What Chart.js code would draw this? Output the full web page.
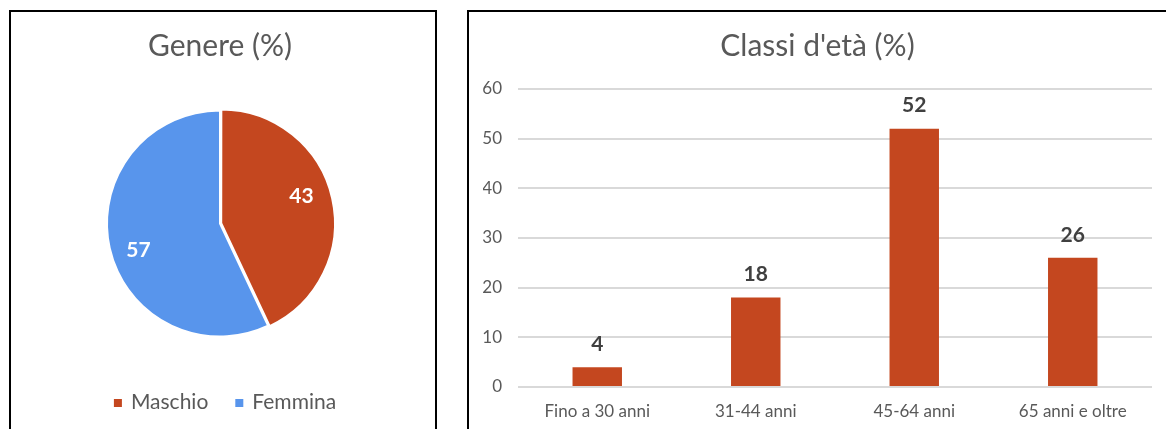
<!DOCTYPE html>
<html>
<head>
<meta charset="utf-8">
<script src="https://cdn.jsdelivr.net/npm/chart.js@4"></script>
<style>
  body { margin: 0; background: #fff; overflow: hidden; width: 1166px; height: 429px; position: relative; }
  .box { position: absolute; border: 2px solid #000; background: #fff; }
  #leftBox { left: 9px; top: 10px; width: 424px; height: 430px; }
  #rightBox { left: 467px; top: 10px; width: 704px; height: 430px; }
  canvas { display: block; }
</style>
</head>
<body>
<div class="box" id="leftBox"><canvas id="pieChart" width="424" height="417"></canvas></div>
<div class="box" id="rightBox"><canvas id="barChart" width="704" height="417"></canvas></div>
<script>
const genderLabels = ["Maschio", "Femmina"];
const genderValues = [43, 57];
const genderColors = ["#C4471F", "#5895EC"];

const ageLabels = ["Fino a 30 anni", "31-44 anni", "45-64 anni", "65 anni e oltre"];
const ageValues = [4, 18, 52, 26];
const yTicks = [0, 10, 20, 30, 40, 50, 60];

const barColor = "#C4471F";
const textGrey = "#595959";
const font = "Lato, 'Open Sans', sans-serif";

// value labels on pie slices and above bars
const valueLabels = {
  id: "valueLabels",
  afterDatasetsDraw(chart) {
    const ctx = chart.ctx;
    const meta = chart.getDatasetMeta(0);
    const vals = chart.data.datasets[0].data;
    ctx.save();
    ctx.textAlign = "center";
    ctx.textBaseline = "middle";
    ctx.font = "bold 21px " + font;
    meta.data.forEach((el, i) => {
      if (chart.config.type === "pie") {
        const mid = (el.startAngle + el.endAngle) / 2 - 0.1;
        const r = el.outerRadius * 0.76;
        ctx.fillStyle = "#fff";
        ctx.fillText(vals[i], el.x + Math.cos(mid) * r, el.y + Math.sin(mid) * r);
      } else {
        ctx.fillStyle = "#404040";
        ctx.fillText(vals[i], el.x, el.y - 23);
      }
    });
    ctx.restore();
  }
};

// legend for the pie, drawn under the chart
const pieLegend = {
  id: "pieLegend",
  afterDraw(chart) {
    const ctx = chart.ctx;
    ctx.save();
    ctx.font = "21px " + font;
    ctx.textBaseline = "middle";
    const y = 390;
    const gap = 27, box = 8, boxGap = 9;
    const widths = genderLabels.map(t => ctx.measureText(t).width);
    let total = 0;
    widths.forEach((w, i) => { total += box + boxGap + w + (i ? gap : 0); });
    let x = 214 - total / 2;
    genderLabels.forEach((t, i) => {
      ctx.fillStyle = genderColors[i];
      ctx.fillRect(x, y - box / 2 + 1, box, box);
      x += box + boxGap;
      ctx.fillStyle = textGrey;
      ctx.fillText(t, x, y);
      x += widths[i] + gap;
    });
    ctx.restore();
  }
};

new Chart(document.getElementById("pieChart"), {
  type: "pie",
  data: {
    labels: genderLabels,
    datasets: [{
      data: genderValues,
      backgroundColor: genderColors,
      borderColor: "#fff",
      borderWidth: 2,
      offset: [5, 0],
      radius: 113
    }]
  },
  options: {
    responsive: false,
    animation: false,
    layout: { padding: { right: 6, bottom: 46 } },
    plugins: {
      title: {
        display: true,
        text: "Genere (%)",
        color: textGrey,
        font: { family: font, size: 30, weight: "normal" },
        padding: { top: 16, bottom: 0 }
      },
      legend: { display: false },
      tooltip: { enabled: false }
    }
  },
  plugins: [valueLabels, pieLegend]
});

new Chart(document.getElementById("barChart"), {
  type: "bar",
  data: {
    labels: ageLabels,
    datasets: [{
      data: ageValues,
      backgroundColor: barColor,
      barPercentage: 0.39,
      categoryPercentage: 0.8
    }]
  },
  options: {
    responsive: false,
    animation: false,
    layout: { padding: { left: 14, right: 21, bottom: 8 } },
    scales: {
      x: {
        grid: { display: false, drawTicks: false },
        border: { display: false },
        ticks: { color: textGrey, font: { family: font, size: 17 }, padding: 14 },
        afterFit(axis) { axis.height = 34; }
      },
      y: {
        min: 0,
        max: 60,
        afterBuildTicks(axis) { axis.ticks = yTicks.map(v => ({ value: v })); },
        grid: { color: "#D9D9D9", lineWidth: 2, drawTicks: false },
        border: { display: false },
        ticks: { color: textGrey, font: { family: font, size: 17 }, padding: 16 },
        afterFit(axis) { axis.width = 35; }
      }
    },
    plugins: {
      title: {
        display: true,
        text: "Classi d'età (%)",
        color: textGrey,
        font: { family: font, size: 30, weight: "normal" },
        padding: { top: 16, bottom: 25 }
      },
      legend: { display: false },
      tooltip: { enabled: false }
    }
  },
  plugins: [valueLabels]
});
</script>
</body>
</html>
